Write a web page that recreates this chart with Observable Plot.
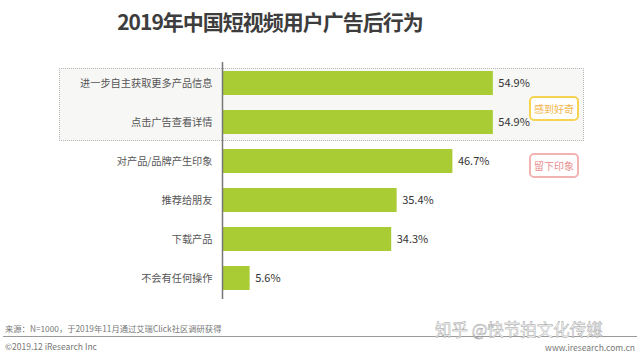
<!DOCTYPE html>
<html><head><meta charset="utf-8">
<script src="https://cdn.jsdelivr.net/npm/d3@7"></script>
<script src="https://cdn.jsdelivr.net/npm/@observablehq/plot@0.6"></script>
<style>
body{margin:0;background:#fff;font-family:"Noto Sans CJK SC","Noto Sans",sans-serif;}
#wrap{position:relative;width:640px;height:359px;overflow:hidden;background:#fff;}
.abs{position:absolute;}
#title{left:0;width:540px;top:6px;text-align:center;font-size:21px;letter-spacing:-1px;font-weight:bold;color:#3d3d3d;line-height:30px;}
#hl{left:59px;top:68px;width:523px;height:71px;background:#f7f7f5;border:1px dotted #b8b8b8;}
.tag{width:46px;height:21px;border-radius:5px;font-size:10px;line-height:21px;text-align:center;background:#fff;}
#tag1{left:529px;top:96px;border:2px solid #f6d452;color:#f1b54a;}
#tag2{left:529px;top:153px;border:2px solid #f2b3b3;color:#e98c8c;}
#chart{left:0;top:0;}
#src{left:5px;top:322px;font-size:8.3px;color:#777;}
#line{left:3px;top:336px;width:634px;height:1px;background:#9a9a9a;}
#copy{left:5px;top:340px;font-size:8.5px;color:#777;}
#site{right:5px;top:342px;font-size:8.5px;line-height:10px;color:#777;}
#wm{left:435px;top:321px;font-size:16.5px;line-height:16px;color:#fff;-webkit-text-stroke:0.45px #9a9a9a;white-space:nowrap;}
</style></head>
<body>
<div id="wrap">
  <div id="hl" class="abs"></div>
  <div id="chart" class="abs"></div>
  <div id="title" class="abs"></div>
  <div id="tag1" class="abs tag">感到好奇</div>
  <div id="tag2" class="abs tag">留下印象</div>
  <div id="src" class="abs"></div>
  <div id="line" class="abs"></div>
  <div id="copy" class="abs">©2019.12 iResearch Inc</div>
  <div id="site" class="abs">www.iresearch.com.cn</div>
  <div id="wm" class="abs">知乎 @快节拍文化传媒</div>
</div>
<script>
const titleText = "2019年中国短视频用户广告后行为";
const sourceText = "来源：N=1000，于2019年11月通过艾瑞Click社区调研获得";
const categories = ["进一步自主获取更多产品信息","点击广告查看详情","对产品/品牌产生印象","推荐给朋友","下载产品","不会有任何操作"];
const values = [54.9, 54.9, 46.7, 35.4, 34.3, 5.6];
const labels = ["54.9%","54.9%","46.7%","35.4%","34.3%","5.6%"];

document.getElementById("title").textContent = titleText;
document.getElementById("src").textContent = sourceText;

const data = categories.map((c,i)=>({cat:c, v:values[i], label:labels[i]}));

const chart = Plot.plot({
  width: 640, height: 359,
  marginTop: 62, marginBottom: 60, marginLeft: 222, marginRight: 122,
  style: {background: "transparent", fontFamily: "'Noto Sans CJK SC', sans-serif"},
  x: {domain: [0, 60], axis: null},
  y: {domain: categories, padding: 0.39, paddingOuter: 0.2, label: null},
  marks: [
    Plot.barX(data, {x: "v", y: "cat", fill: "#a9cc34"}),
    Plot.ruleX([0], {stroke: "#777", strokeWidth: 1.5}),
    Plot.text(data, {x: "v", y: "cat", text: "label", dx: 5, textAnchor: "start", fontSize: 11, fill: "#333"}),
    Plot.axisY({tickSize: 0, tickPadding: 10, fontSize: 10.2, color: "#555", label: null})
  ]
});
document.getElementById("chart").appendChild(chart);
</script>
</body></html>
